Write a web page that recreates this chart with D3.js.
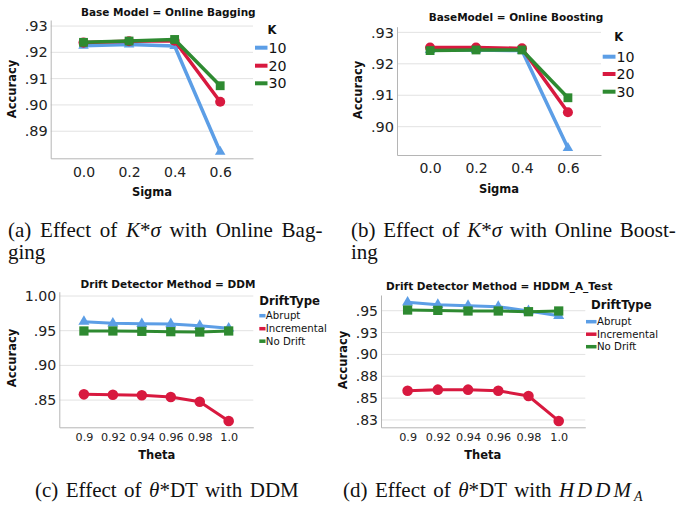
<!DOCTYPE html>
<html>
<head>
<meta charset="utf-8">
<script src="https://cdn.jsdelivr.net/npm/d3@7/dist/d3.min.js"></script>
<style>
  body { margin: 0; background: #fff; }
</style>
</head>
<body>
<div class="chart"></div>
<script>
// ---- data ----
var sigmaLabels = ["0.0", "0.2", "0.4", "0.6"];
var kNames = ["10", "20", "30"];

var baggingK10 = [0.9225, 0.9230, 0.9224, 0.8822];
var baggingK20 = [0.9237, 0.9242, 0.9244, 0.9012];
var baggingK30 = [0.9238, 0.9243, 0.9249, 0.9073];

var boostingK10 = [0.9244, 0.9244, 0.9242, 0.8932];
var boostingK20 = [0.9252, 0.9252, 0.9249, 0.9046];
var boostingK30 = [0.9242, 0.9244, 0.9244, 0.9092];

var thetaLabels = ["0.9", "0.92", "0.94", "0.96", "0.98", "1.0"];
var driftNames = ["Abrupt", "Incremental", "No Drift"];

var ddmAbrupt = [0.9630, 0.9607, 0.9600, 0.9597, 0.9572, 0.9535];
var ddmIncremental = [0.8583, 0.8578, 0.8569, 0.8545, 0.8477, 0.8199];
var ddmNoDrift = [0.9496, 0.9496, 0.9491, 0.9486, 0.9481, 0.9496];

var hddmAbrupt = [0.9596, 0.9569, 0.9557, 0.9546, 0.9497, 0.9443];
var hddmIncremental = [0.8585, 0.8597, 0.8597, 0.8585, 0.8524, 0.8239];
var hddmNoDrift = [0.9508, 0.9504, 0.9497, 0.9497, 0.9489, 0.9497];

// y tick values + the labels SPSS printed for them
var yTicksBagging = [0.89, 0.90, 0.91, 0.92, 0.93];
var yLabelsBagging = [".89", ".90", ".91", ".92", ".93"];
var yTicksBoosting = [0.90, 0.91, 0.92, 0.93];
var yLabelsBoosting = [".90", ".91", ".92", ".93"];
var yTicksDdm = [0.85, 0.90, 0.95, 1.00];
var yLabelsDdm = [".85", ".90", ".95", "1.00"];
var yTicksHddm = [0.825, 0.85, 0.875, 0.90, 0.925, 0.95];
var yLabelsHddm = [".83", ".85", ".88", ".90", ".93", ".95"];

var colors = ["#5c9ee6", "#d8193f", "#2e8a31"];
var shapes = [d3.symbolTriangle, d3.symbolCircle, d3.symbolSquare];
var shapeSizes = [48, 80, 78];

var svgWidth = 676;
var svgHeight = 509;

var svg = d3.select(".chart")
  .append("svg")
  .attr("width", svgWidth)
  .attr("height", svgHeight);

svg.append("rect").attr("width", svgWidth).attr("height", svgHeight).attr("fill", "#fff");

var sansFont = "DejaVu Sans";

function drawPanel(p) {
  var g = svg.append("g");

  var x = d3.scalePoint()
    .domain(p.cats)
    .range([p.left, p.right])
    .padding(p.pad);

  var y = d3.scaleLinear()
    .domain(p.yDomain)
    .range([p.bottom, p.top]);

  // gridlines
  g.selectAll(".grid")
    .data(p.yTicks)
    .enter()
    .append("line")
    .attr("x1", p.left)
    .attr("x2", p.right)
    .attr("y1", d => y(d))
    .attr("y2", d => y(d))
    .attr("stroke", "#e2e2e2")
    .attr("stroke-width", 1);

  // y axis
  var yAxis = g.append("g")
    .attr("transform", `translate(${p.left},0)`)
    .call(d3.axisLeft(y)
      .tickValues(p.yTicks)
      .tickSize(0)
      .tickPadding(3)
      .tickFormat((d, i) => p.yLabels[i]));
  yAxis.select(".domain").attr("stroke", "#b5b5b5");
  yAxis.selectAll("text")
    .attr("font-family", sansFont)
    .attr("font-size", p.yFont)
    .attr("fill", "#222");

  // x axis
  var xAxis = g.append("g")
    .attr("transform", `translate(0,${p.bottom})`)
    .call(d3.axisBottom(x).tickSize(0).tickPadding(p.xPad));
  xAxis.select(".domain").attr("stroke", "#b5b5b5");
  xAxis.selectAll("text")
    .attr("font-family", sansFont)
    .attr("font-size", p.xFont)
    .attr("fill", "#222");

  // title
  g.append("text")
    .attr("x", p.titleX)
    .attr("y", p.titleY)
    .attr("text-anchor", "middle")
    .attr("dominant-baseline", "central")
    .attr("font-family", sansFont)
    .attr("font-weight", "bold")
    .attr("font-size", 10.5)
    .attr("fill", "#111")
    .text(p.title);

  // axis titles
  g.append("text")
    .attr("transform", `translate(${p.yTitleX},${p.yTitleY}) rotate(-90)`)
    .attr("text-anchor", "middle")
    .attr("dominant-baseline", "central")
    .attr("font-family", sansFont)
    .attr("font-weight", "bold")
    .attr("font-size", 11.5)
    .attr("fill", "#111")
    .text("Accuracy");

  g.append("text")
    .attr("x", p.xTitleX)
    .attr("y", p.xTitleY)
    .attr("text-anchor", "middle")
    .attr("dominant-baseline", "central")
    .attr("font-family", sansFont)
    .attr("font-weight", "bold")
    .attr("font-size", 11.5)
    .attr("fill", "#111")
    .text(p.xTitle);

  // lines + markers
  var line = d3.line()
    .x((d, i) => x(p.cats[i]))
    .y(d => y(d));

  p.series.forEach(function(vals, s) {
    g.append("path")
      .datum(vals)
      .attr("d", line)
      .attr("fill", "none")
      .attr("stroke", colors[s])
      .attr("stroke-width", p.lineWidth)
      .attr("stroke-linejoin", "round");

    g.selectAll(".m" + s)
      .data(vals)
      .enter()
      .append("path")
      .attr("transform", (d, i) => `translate(${x(p.cats[i])},${y(d)})`)
      .attr("d", d3.symbol().type(shapes[s]).size(shapeSizes[s] * p.markerScale))
      .attr("fill", colors[s]);
  });

  // legend
  g.append("text")
    .attr("x", p.legTitleX)
    .attr("y", p.legTitleY)
    .attr("dominant-baseline", "central")
    .attr("font-family", sansFont)
    .attr("font-weight", "bold")
    .attr("font-size", p.legTitleFont)
    .attr("fill", "#111")
    .text(p.legTitle);

  p.names.forEach(function(name, s) {
    var ly = p.legY[s];
    g.append("line")
      .attr("x1", p.swX1)
      .attr("x2", p.swX2)
      .attr("y1", ly)
      .attr("y2", ly)
      .attr("stroke", colors[s])
      .attr("stroke-width", p.swWidth);
    g.append("text")
      .attr("x", p.legTextX)
      .attr("y", ly)
      .attr("dominant-baseline", "central")
      .attr("font-family", sansFont)
      .attr("font-size", p.legFont)
      .attr("fill", "#111")
      .text(name);
  });
}

// (a) online bagging
drawPanel({
  cats: sigmaLabels, pad: 0.72,
  left: 50.7, right: 253, top: 20, bottom: 158.3,
  yDomain: [0.8797, 0.9323], yTicks: yTicksBagging, yLabels: yLabelsBagging,
  yFont: 14.5, xFont: 14, xPad: 8.7,
  series: [baggingK10, baggingK20, baggingK30], lineWidth: 3.5, markerScale: 1,
  title: "Base Model = Online Bagging", titleX: 168.3, titleY: 11.7,
  yTitleX: 12, yTitleY: 89, xTitle: "Sigma", xTitleX: 152, xTitleY: 192,
  names: kNames, legTitle: "K", legTitleX: 267.5, legTitleY: 30, legTitleFont: 11.5,
  legY: [47.7, 65.7, 83.3], swX1: 255, swX2: 267.5, swWidth: 4,
  legTextX: 268.5, legFont: 14.2
});

// (b) online boosting
drawPanel({
  cats: sigmaLabels, pad: 0.72,
  left: 397, right: 601, top: 26.7, bottom: 155,
  yDomain: [0.8910, 0.9318], yTicks: yTicksBoosting, yLabels: yLabelsBoosting,
  yFont: 14.5, xFont: 14, xPad: 7.7,
  series: [boostingK10, boostingK20, boostingK30], lineWidth: 3.5, markerScale: 1,
  title: "BaseModel = Online Boosting", titleX: 516, titleY: 16.7,
  yTitleX: 358, yTitleY: 90, xTitle: "Sigma", xTitleX: 499, xTitleY: 189,
  names: kNames, legTitle: "K", legTitleX: 614.3, legTitleY: 36.7, legTitleFont: 11.5,
  legY: [56.7, 74, 91.7], swX1: 602.7, swX2: 615.5, swWidth: 4,
  legTextX: 616.5, legFont: 14.2
});

// (c) DDM
drawPanel({
  cats: thetaLabels, pad: 0.85,
  left: 59.3, right: 253.3, top: 291.7, bottom: 427.3,
  yDomain: [0.8108, 1.0062], yTicks: yTicksDdm, yLabels: yLabelsDdm,
  yFont: 14.2, xFont: 11.2, xPad: 5.4,
  series: [ddmAbrupt, ddmIncremental, ddmNoDrift], lineWidth: 3, markerScale: 1.1,
  title: "Drift Detector Method = DDM", titleX: 168, titleY: 284,
  yTitleX: 11.7, yTitleY: 358, xTitle: "Theta", xTitleX: 156.7, xTitleY: 455,
  names: driftNames, legTitle: "DriftType", legTitleX: 259.3, legTitleY: 300.7, legTitleFont: 11.7,
  legY: [315.7, 328.7, 341.2], swX1: 259.3, swX2: 265.5, swWidth: 3.5,
  legTextX: 265.8, legFont: 10.2
});

// (d) HDDM_A
drawPanel({
  cats: thetaLabels, pad: 0.88,
  left: 381, right: 585.3, top: 295, bottom: 427.3,
  yDomain: [0.8166, 0.968], yTicks: yTicksHddm, yLabels: yLabelsHddm,
  yFont: 14, xFont: 11.2, xPad: 5.4,
  series: [hddmAbrupt, hddmIncremental, hddmNoDrift], lineWidth: 3, markerScale: 1.1,
  title: "Drift Detector Method = HDDM_A_Test", titleX: 499.3, titleY: 286,
  yTitleX: 343.3, yTitleY: 360, xTitle: "Theta", xTitleX: 482.7, xTitleY: 455,
  names: driftNames, legTitle: "DriftType", legTitleX: 591, legTitleY: 305, legTitleFont: 11.7,
  legY: [321.7, 334.2, 346.7], swX1: 586, swX2: 596.5, swWidth: 3.5,
  legTextX: 597, legFont: 10.2
});

// ---- captions (serif, LaTeX-like) ----
var serif = "Liberation Serif";

function caption(x, y, parts, wordSpace) {
  var t = svg.append("text")
    .attr("x", x)
    .attr("y", y)
    .attr("font-family", serif)
    .attr("font-size", 21)
    .attr("fill", "#111");
  if (wordSpace) t.attr("word-spacing", wordSpace);
  parts.forEach(function(pt) {
    var s = t.append("tspan").text(pt.t);
    if (pt.i) s.attr("font-style", "italic");
    if (pt.ls) s.attr("letter-spacing", pt.ls);
    if (pt.sub) s.attr("font-size", 14).attr("dy", 4);
  });
  return t;
}

caption(8, 237, [{t: "(a) Effect of "}, {t: "K", i: true}, {t: "*"}, {t: "σ", i: true}, {t: " with Online Bag-"}], 3.5);
caption(8, 259, [{t: "ging"}]);
caption(351, 237, [{t: "(b) Effect of "}, {t: "K", i: true}, {t: "*"}, {t: "σ", i: true}, {t: " with Online Boost-"}], 2.5);
caption(351, 259, [{t: "ing"}]);
caption(35, 497, [{t: "(c) Effect of "}, {t: "θ", i: true}, {t: "*DT with DDM"}], 2.2);
caption(343, 497, [{t: "(d) Effect of "}, {t: "θ", i: true}, {t: "*DT with "}, {t: "HDDM", i: true, ls: 3}, {t: "A", i: true, sub: true}], 2.2);
</script>
</body>
</html>
